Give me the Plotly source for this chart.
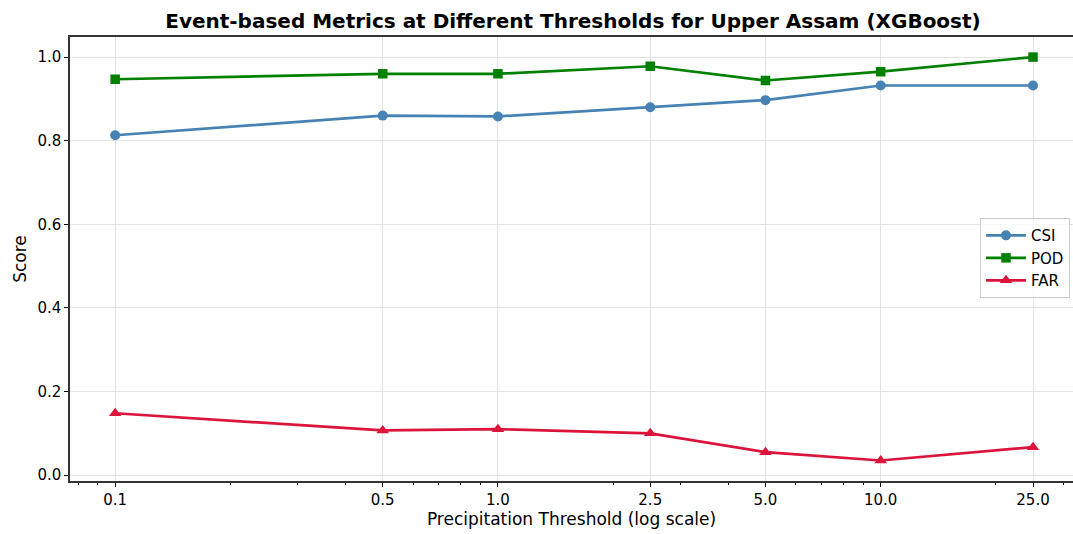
import plotly.graph_objects as go
import numpy as np

thresholds = [0.1, 0.5, 1.0, 2.5, 5.0, 10.0, 25.0]
tick_labels = ["0.1", "0.5", "1.0", "2.5", "5.0", "10.0", "25.0"]
csi = [0.813, 0.860, 0.858, 0.880, 0.897, 0.932, 0.932]
pod = [0.947, 0.960, 0.960, 0.978, 0.944, 0.965, 1.000]
far = [0.148, 0.107, 0.110, 0.100, 0.055, 0.035, 0.067]
y_ticks = [0.0, 0.2, 0.4, 0.6, 0.8, 1.0]

minor_vals = [0.08, 0.09, 0.2, 0.3, 0.4, 0.6, 0.7, 0.8, 0.9,
              2, 3, 4, 6, 7, 8, 9, 20, 30]

font = "DejaVu Sans"
fig = go.Figure()
series = [
    ("CSI", csi, "#4682B4", "circle", 10),
    ("POD", pod, "#008000", "square", 9.5),
    ("FAR", far, "#DC143C", "triangle-up", 11),
]
for name, vals, color, sym, size in series:
    fig.add_trace(go.Scatter(
        x=thresholds, y=vals, name=name, mode="lines+markers",
        line=dict(color=color, width=2.7),
        marker=dict(symbol=sym, size=size, color=color),
    ))

fig.update_layout(
    width=1073, height=534,
    margin=dict(l=70, r=0, t=37, b=53),
    paper_bgcolor="white", plot_bgcolor="white",
    font=dict(family=font, size=15, color="black"),
    title=dict(
        text="<b>Event-based Metrics at Different Thresholds for Upper Assam (XGBoost)</b>",
        x=0.534, xanchor="center", y=0.96, yanchor="middle",
        font=dict(size=20, family=font, color="black"),
    ),
    legend=dict(
        x=0.997, xanchor="right", y=0.502, yanchor="middle",
        bgcolor="rgba(255,255,255,0.8)", bordercolor="#cccccc", borderwidth=1,
        font=dict(size=15, family=font),
        tracegroupgap=0, itemwidth=40,
    ),
    showlegend=True,
)
fig.update_xaxes(
    type="log", range=[np.log10(0.0762), np.log10(31.8)],
    tickmode="array", tickvals=thresholds, ticktext=tick_labels,
    ticks="outside", ticklen=4, tickwidth=1, tickcolor="black",
    showline=True, linecolor="#333333", linewidth=1.5, mirror=True,
    showgrid=True, gridcolor="#e3e3e3", gridwidth=1,
    zeroline=False,
    title=dict(text="Precipitation Threshold (log scale)", font=dict(size=17, family=font), standoff=5),
    tickfont=dict(size=15),
    minor=dict(tickmode="array", tickvals=minor_vals, ticks="outside", ticklen=2,
               tickcolor="black", showgrid=False),
)
fig.update_yaxes(
    range=[-0.014, 1.048],
    tickmode="array", tickvals=y_ticks, ticktext=[f"{v:.1f}" for v in y_ticks],
    ticks="outside", ticklen=4, tickwidth=1, tickcolor="black",
    showline=True, linecolor="#333333", linewidth=1.5, mirror=False,
    showgrid=True, gridcolor="#e3e3e3", gridwidth=1,
    zeroline=False,
    title=dict(text="Score", font=dict(size=17, family=font), standoff=6),
    tickfont=dict(size=15),
)
fig.write_html("out.html")
